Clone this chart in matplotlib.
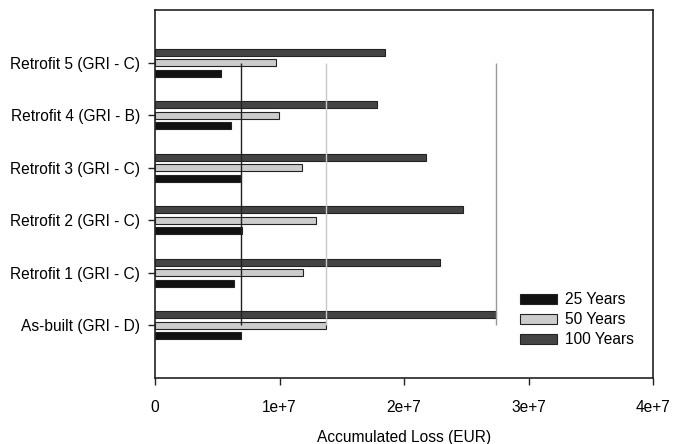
import matplotlib
matplotlib.use("Agg")
import matplotlib.pyplot as plt
import numpy as np

plt.rcParams["font.family"] = ["Liberation Sans", "DejaVu Sans"]

categories = [
    "As-built (GRI - D)",
    "Retrofit 1 (GRI - C)",
    "Retrofit 2 (GRI - C)",
    "Retrofit 3 (GRI - C)",
    "Retrofit 4 (GRI - B)",
    "Retrofit 5 (GRI - C)",
]
loss_25 = [6.87e6, 6.34e6, 6.98e6, 6.79e6, 6.07e6, 5.32e6]
loss_50 = [1.372e7, 1.187e7, 1.291e7, 1.179e7, 0.997e7, 0.968e7]
loss_100 = [2.738e7, 2.292e7, 2.476e7, 2.177e7, 1.784e7, 1.845e7]
series_labels = ["25 Years", "50 Years", "100 Years"]
x_ticks = [0, 1e7, 2e7, 3e7, 4e7]
x_tick_labels = ["0", "1e+7", "2e+7", "3e+7", "4e+7"]

fs = 11.2

fig = plt.figure(figsize=(6.86, 4.44), dpi=100)
ax = fig.add_axes([0.226, 0.149, 0.726, 0.828])

y = np.arange(len(categories))
h = 0.13
off = 0.2
edge = "#222222"
ax.barh(y - off, loss_25, height=h, color="#111111", edgecolor=edge, lw=0.8, label=series_labels[0], zorder=2)
ax.barh(y, loss_50, height=h, color="#cccccc", edgecolor=edge, lw=0.8, label=series_labels[1], zorder=2)
ax.barh(y + off, loss_100, height=h, color="#444444", edgecolor=edge, lw=0.8, label=series_labels[2], zorder=2)

# reference lines at the as-built values
ax.vlines(loss_25[0], y[0], y[-1], color="#222222", lw=1.0, zorder=3)
ax.vlines(loss_50[0], y[0], y[-1], color="#c8c8c8", lw=1.0, zorder=3)
ax.vlines(loss_100[0], y[0], y[-1], color="#999999", lw=1.0, zorder=3)

ax.set_xlim(0, 4e7)
ax.set_ylim(-1, 6)
ax.set_xticks(x_ticks)
ax.set_xticklabels(x_tick_labels, fontsize=fs)
ax.set_yticks(y)
ax.set_yticklabels(categories, fontsize=fs)
ax.tick_params(axis="both", direction="out", length=5, width=1, color="#222222", pad=6)
ax.tick_params(axis="x", pad=11)
for s in ax.spines.values():
    s.set_color("#222222")
    s.set_linewidth(1.2)
ax.set_xlabel("Accumulated Loss (EUR)", fontsize=fs, labelpad=11)

handles, labels = ax.get_legend_handles_labels()
ax.legend(handles, labels, loc="lower right", bbox_to_anchor=(0.99, 0.045), frameon=False,
          fontsize=fs, handlelength=2.35, handleheight=0.65, labelspacing=0.32, handletextpad=0.55)

fig.savefig("out.png", dpi=100)
